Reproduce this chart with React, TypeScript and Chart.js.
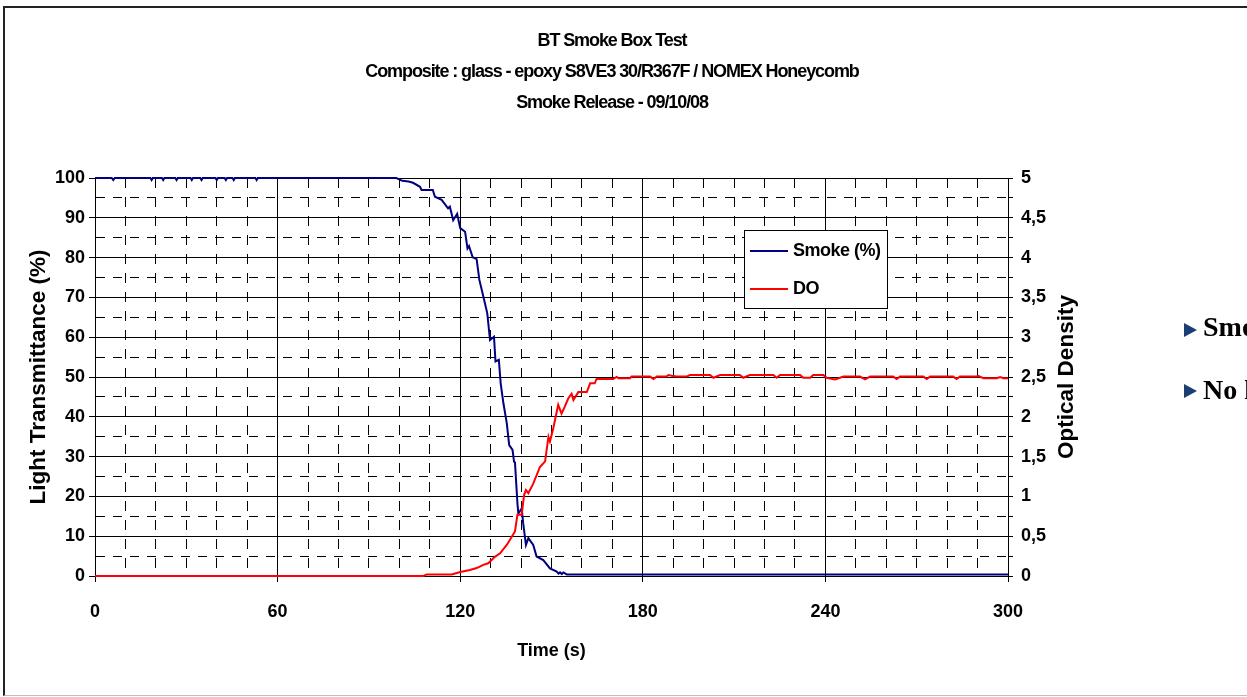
import React, { useEffect, useRef } from "react";
import { Chart, registerables } from "chart.js";

Chart.register(...registerables);

const TITLE_LINES = [
  "BT Smoke Box Test",
  "Composite : glass - epoxy S8VE3 30/R367F / NOMEX Honeycomb",
  "Smoke Release - 09/10/08",
];
const X_TITLE = "Time (s)";
const Y_LEFT_TITLE = "Light Transmittance (%)";
const Y_RIGHT_TITLE = "Optical Density";
const SERIES_LABELS = ["Smoke (%)", "DO"];
const SERIES_COLORS = ["#000080", "#ff0000"];
const X_MAJOR_TICKS = [0, 60, 120, 180, 240, 300];
const LEFT_MAJOR_TICKS = [0, 10, 20, 30, 40, 50, 60, 70, 80, 90, 100];
const RIGHT_MAJOR_TICKS = [0, 0.5, 1, 1.5, 2, 2.5, 3, 3.5, 4, 4.5, 5];
const SIDE_BULLETS = ["Smoke", "No l"];

const smokeTime = [
  0, 5.5, 6, 6.5, 18.2, 18.6, 19, 22, 22.4, 22.8,
  26.4, 26.8, 27.2, 31.4, 31.8, 32.2, 34.6, 35, 35.4, 39.6,
  40, 40.4, 42.6, 43, 43.4, 45.2, 45.6, 46, 52.7, 53.1,
  53.5, 99, 101, 103, 104.5, 106.8, 107.3, 111, 111.7, 113.9,
  116, 116.6, 117.7, 119, 120, 121.6, 122.4, 122.9, 124.1, 125.4,
  126.3, 127.6, 128.9, 129.8, 131.1, 131.6, 132.7, 133.3, 134.2, 135.3,
  136.1, 137.2, 137.7, 138, 138.8, 139.1, 140.2, 140.7, 141.6, 142.4,
  144, 145.1, 147.3, 149.5, 151.7, 152.3, 152.8, 153.4, 153.9, 155,
  300,
];
const smokeValue = [
  100, 100, 99.5, 100, 100, 99.5, 100, 100, 99.5, 100,
  100, 99.5, 100, 100, 99.5, 100, 100, 99.5, 100, 100,
  99.5, 100, 100, 99.5, 100, 100, 99.5, 100, 100, 99.5,
  100, 100, 99.3, 99.1, 98.8, 97.8, 97, 97, 95.3, 94.5,
  92.4, 92.8, 89.4, 91, 87.4, 86.5, 82.3, 82.9, 80.1, 79.6,
  74.4, 70.2, 66, 59.3, 60.1, 53.9, 54.3, 48.4, 43.4, 38.4,
  32.9, 31.7, 28.7, 28.5, 18.3, 15.7, 17, 13.2, 7.8, 9.5,
  7.8, 4.9, 4, 1.9, 1.1, 0.6, 0.9, 0.5, 0.9, 0.4,
  0.4,
];

const doTime = [
  0, 108, 109, 117.2, 120, 123.2, 125.4, 127.6, 129.2, 131.4,
  133.1, 135.3, 136.9, 138, 138.8, 140.2, 141, 141.6, 142.4, 144,
  146.2, 147.9, 149, 149.5, 150.6, 152.2, 153.3, 154.4, 155.5, 156.6,
  157.2, 158.8, 161.6, 162.7, 164.2, 164.8, 170.3, 171.4, 172, 175.8,
  176.3, 182.4, 183.5, 184.6, 187.8, 188.4, 189.5, 191.1, 194.4, 195.5,
  202.1, 203.2, 205.4, 211.9, 213, 215.2, 222.9, 224, 225.1, 231.7,
  232.7, 235, 236, 239.3, 240.4, 243.2, 244.8, 245.9, 251.4, 253,
  254.7, 262.3, 263.4, 264.5, 272.2, 273.3, 274.4, 282, 283.1, 284.2,
  289.7, 290.2, 291.9, 296.3, 297.4, 298.5, 300,
];
const doValue = [
  0, 0, 0.02, 0.02, 0.05, 0.075, 0.1, 0.14, 0.16, 0.24,
  0.285, 0.39, 0.49, 0.56, 0.77, 0.77, 1.02, 1.08, 1.04, 1.16,
  1.37, 1.44, 1.75, 1.69, 1.86, 2.15, 2.04, 2.13, 2.23, 2.29,
  2.21, 2.31, 2.31, 2.42, 2.42, 2.475, 2.475, 2.5, 2.485, 2.485,
  2.505, 2.505, 2.475, 2.505, 2.505, 2.525, 2.515, 2.505, 2.505, 2.525,
  2.525, 2.49, 2.525, 2.525, 2.49, 2.525, 2.525, 2.49, 2.525, 2.525,
  2.49, 2.49, 2.525, 2.525, 2.49, 2.47, 2.49, 2.505, 2.505, 2.47,
  2.505, 2.505, 2.475, 2.505, 2.505, 2.475, 2.505, 2.505, 2.475, 2.505,
  2.505, 2.515, 2.485, 2.485, 2.5, 2.485, 2.485,
];

const FONT = '"Liberation Sans", Arial, Helvetica, sans-serif';
const W = 1247;
const H = 697;

const isMajorX = (v: number) => X_MAJOR_TICKS.includes(v);
const isMajorL = (v: number) => LEFT_MAJOR_TICKS.includes(v);
const isMajorR = (v: number) => RIGHT_MAJOR_TICKS.includes(v);

const decorPlugin = {
  id: "decor",
  afterDraw(chart: any) {
    const ctx = chart.ctx as CanvasRenderingContext2D;
    const area = chart.chartArea;
    // titles
    ctx.save();
    (ctx as any).letterSpacing = "-1.1px";
    ctx.fillStyle = "#000";
    ctx.font = `bold 18px ${FONT}`;
    ctx.textAlign = "center";
    ctx.textBaseline = "middle";
    const tx = 612;
    TITLE_LINES.forEach((line, i) => {
      ctx.fillText(line, tx, 41 + i * 31);
    });
    ctx.restore();

    // right axis title (reads bottom to top)
    const r = chart.scales.y1;
    ctx.save();
    ctx.fillStyle = "#000";
    ctx.font = `bold 22.5px ${FONT}`;
    ctx.textAlign = "center";
    ctx.textBaseline = "middle";
    ctx.translate(r.left + 59, (area.top + area.bottom) / 2);
    ctx.rotate(-Math.PI / 2);
    ctx.fillText(Y_RIGHT_TITLE, 0, 0);
    ctx.restore();

    // legend
    const lx = area.left + 649.5;
    const ly = area.top + 52.5;
    ctx.save();
    ctx.fillStyle = "#fff";
    ctx.fillRect(lx, ly, 143, 78);
    ctx.strokeStyle = "#000";
    ctx.lineWidth = 1;
    ctx.strokeRect(lx, ly, 143, 78);
    (ctx as any).letterSpacing = "-0.5px";
    ctx.font = `bold 18px ${FONT}`;
    ctx.textAlign = "left";
    ctx.textBaseline = "middle";
    SERIES_LABELS.forEach((label, i) => {
      const y = ly + 20.5 + i * 38;
      ctx.strokeStyle = SERIES_COLORS[i];
      ctx.lineWidth = 2;
      ctx.beginPath();
      ctx.moveTo(lx + 5.5, y);
      ctx.lineTo(lx + 43.5, y);
      ctx.stroke();
      ctx.fillStyle = "#000";
      ctx.fillText(label, lx + 48.5, y);
    });
    ctx.restore();
  },
};

export default function App() {
  const ref = useRef<HTMLCanvasElement | null>(null);

  useEffect(() => {
    if (!ref.current) return;
    const tickFont = { family: FONT, size: 18, weight: "bold" as const };
    const chart = new Chart(ref.current, {
      type: "line",
      data: {
        datasets: [
          {
            label: SERIES_LABELS[0],
            data: smokeTime.map((t, i) => ({ x: t, y: smokeValue[i] })),
            borderColor: SERIES_COLORS[0],
            backgroundColor: SERIES_COLORS[0],
            borderWidth: 2,
            pointRadius: 0,
            tension: 0,
            yAxisID: "y",
            order: 2,
            clip: 3,
          },
          {
            label: SERIES_LABELS[1],
            data: doTime.map((t, i) => ({ x: t, y: doValue[i] })),
            borderColor: SERIES_COLORS[1],
            backgroundColor: SERIES_COLORS[1],
            borderWidth: 2,
            pointRadius: 0,
            tension: 0,
            yAxisID: "y1",
            order: 1,
            clip: 3,
          },
        ],
      },
      options: {
        responsive: false,
        animation: false,
        events: [],
        layout: { padding: { top: 178, left: 0, right: 22, bottom: 0 } },
        plugins: {
          legend: { display: false },
          title: { display: false },
          tooltip: { enabled: false },
        },
        scales: {
          x: {
            type: "linear",
            position: "bottom",
            min: 0,
            max: 300,
            afterFit: (s: any) => {
              s.height = 121;
            },
            ticks: {
              stepSize: 10,
              maxTicksLimit: 1000,
              autoSkip: false,
              maxRotation: 0,
              minRotation: 0,
              padding: 19,
              color: "#000",
              font: tickFont,
              callback: (v: any) => (isMajorX(Number(v)) ? String(v) : ""),
            },
            grid: {
              color: "#000",
              lineWidth: 1,
              tickLength: 6,
              tickColor: "#000",
              tickWidth: (c: any) => (c.tick && isMajorX(c.tick.value) ? 1 : 0),
            },
            border: {
              display: true,
              color: "#000",
              width: 1,
              dash: (c: any) => (c.tick && !isMajorX(c.tick.value) ? [10, 9] : []),
            },
            title: {
              display: true,
              text: X_TITLE,
              color: "#000",
              font: tickFont,
              padding: { top: 0, bottom: 35 },
            },
          },
          y: {
            type: "linear",
            position: "left",
            min: 0,
            max: 100,
            afterFit: (s: any) => {
              s.width = 95;
            },
            ticks: {
              stepSize: 5,
              maxTicksLimit: 1000,
              autoSkip: false,
              padding: 4,
              color: "#000",
              font: tickFont,
              callback: (v: any) => (isMajorL(Number(v)) ? String(v) : ""),
            },
            grid: {
              color: "#000",
              lineWidth: 1,
              tickLength: 6,
              tickColor: "#000",
              tickWidth: (c: any) => (c.tick && isMajorL(c.tick.value) ? 1 : 0),
            },
            border: {
              display: true,
              color: "#000",
              width: 1,
              dash: (c: any) => (c.tick && !isMajorL(c.tick.value) ? [9, 8] : []),
            },
            title: {
              display: true,
              text: Y_LEFT_TITLE,
              color: "#000",
              font: { family: FONT, size: 22.5, weight: "bold" },
              padding: { top: 25, bottom: 0 },
            },
          },
          y1: {
            type: "linear",
            position: "right",
            min: 0,
            max: 5,
            afterFit: (s: any) => {
              s.width = 217;
            },
            ticks: {
              stepSize: 0.25,
              maxTicksLimit: 1000,
              autoSkip: false,
              padding: 8,
              color: "#000",
              font: tickFont,
              callback: (v: any) =>
                isMajorR(Number(v)) ? String(v).replace(".", ",") : "",
            },
            grid: {
              drawOnChartArea: false,
              color: "#000",
              lineWidth: 1,
              tickLength: 5,
              tickColor: "#000",
            },
            border: { display: true, color: "#000", width: 1 },
            title: { display: false },
          },
        },
      },
      plugins: [decorPlugin],
    } as any);
    return () => chart.destroy();
  }, []);

  return (
    <div
      style={{
        position: "absolute",
        left: 0,
        top: 0,
        width: W,
        height: H,
        overflow: "hidden",
        background: "#fff",
      }}
    >
      <div
        style={{
          position: "absolute",
          left: 3,
          top: 6,
          width: 1400,
          height: 690,
          boxSizing: "border-box",
          borderTop: "2px solid #222",
          borderLeft: "2px solid #222",
          borderBottom: "1px solid #bdbdbd",
        }}
      />
      <canvas
        ref={ref}
        width={W}
        height={H}
        style={{ position: "absolute", left: 0, top: 0, width: W, height: H }}
      />
      {SIDE_BULLETS.map((text, i) => (
        <React.Fragment key={text}>
          <div
            style={{
              position: "absolute",
              left: 1184,
              top: 323 + i * 61,
              width: 0,
              height: 0,
              borderLeft: "13px solid #1c3f73",
              borderTop: "7px solid transparent",
              borderBottom: "7px solid transparent",
            }}
          />
          <div
            style={{
              position: "absolute",
              left: 1203,
              top: 312.5 + i * 63,
              fontFamily: '"Liberation Serif", "Times New Roman", serif',
              fontWeight: "bold",
              fontSize: 28,
              lineHeight: "28px",
              whiteSpace: "nowrap",
              color: "#000",
            }}
          >
            {text}
          </div>
        </React.Fragment>
      ))}
    </div>
  );
}
